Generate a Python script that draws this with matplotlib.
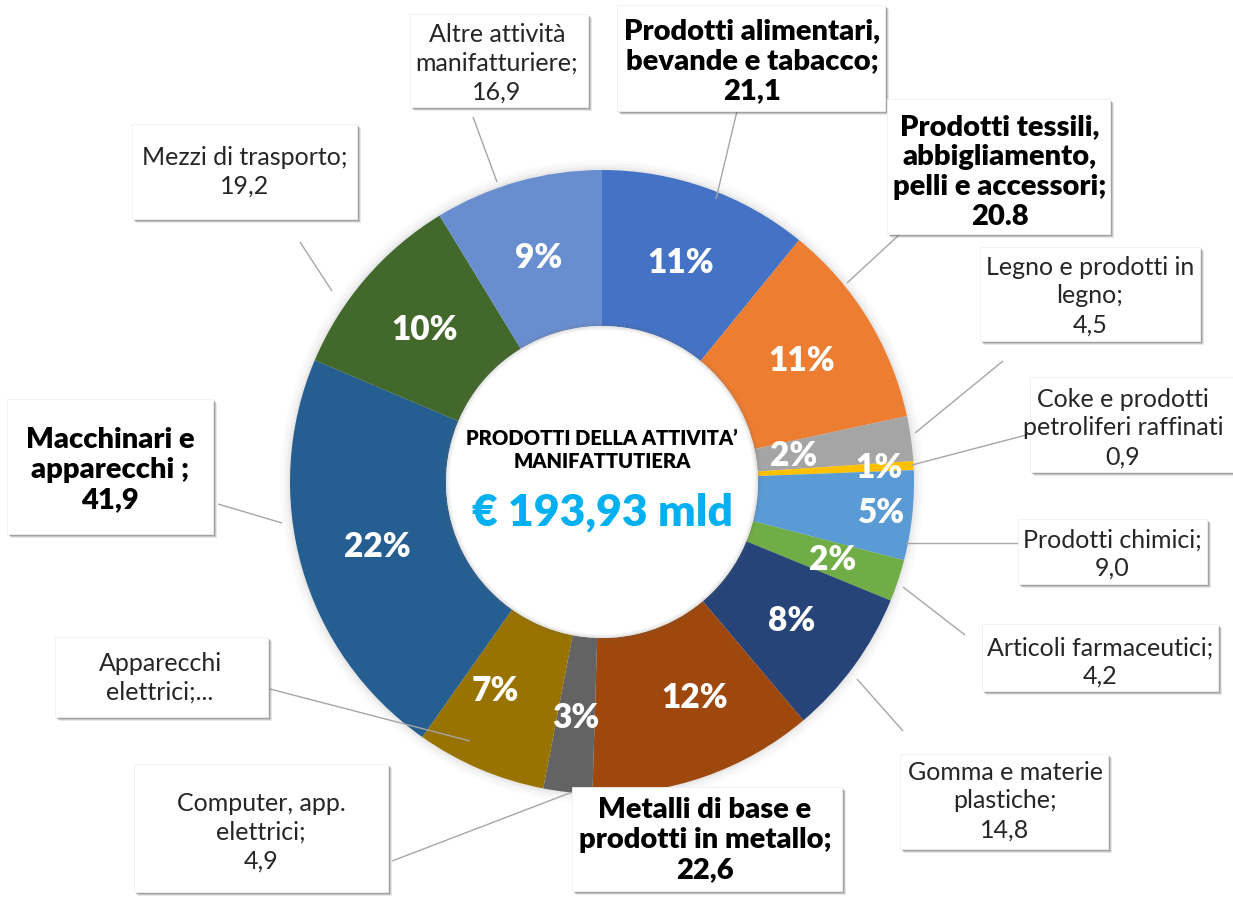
import matplotlib
matplotlib.use("Agg")
import matplotlib.pyplot as plt
from matplotlib.patches import Rectangle, Circle
import numpy as np

plt.rcParams['font.family'] = ['Lato', 'DejaVu Sans']

# ---------------- data ----------------
categories = ["Prodotti alimentari, bevande e tabacco", "Prodotti tessili, abbigliamento, pelli e accessori",
              "Legno e prodotti in legno", "Coke e prodotti petroliferi raffinati", "Prodotti chimici",
              "Articoli farmaceutici", "Gomma e materie plastiche", "Metalli di base e prodotti in metallo",
              "Computer, app. elettrici", "Apparecchi elettrici", "Macchinari e apparecchi",
              "Mezzi di trasporto", "Altre attività manifatturiere"]
values = [21.1, 20.8, 4.5, 0.9, 9.0, 4.2, 14.8, 22.6, 4.9, 13.1, 41.9, 19.2, 16.9]
pct_labels = ["11%", "11%", "2%", "1%", "5%", "2%", "8%", "12%", "3%", "7%", "22%", "10%", "9%"]
box_texts = ["Prodotti alimentari,\nbevande e tabacco;\n21,1",
             "Prodotti tessili,\nabbigliamento,\npelli e accessori;\n20.8",
             "Legno e prodotti in\nlegno;\n4,5",
             "Coke e prodotti\npetroliferi raffinati\n0,9",
             "Prodotti chimici;\n9,0",
             "Articoli farmaceutici;\n4,2",
             "Gomma e materie\nplastiche;\n14,8",
             "Metalli di base e\nprodotti in metallo;\n22,6",
             "Computer, app.\nelettrici;\n4,9",
             "Apparecchi\nelettrici;...",
             "Macchinari e\napparecchi ;\n41,9",
             "Mezzi di trasporto;\n19,2",
             "Altre attività\nmanifatturiere;\n16,9"]
bold_flags = [True, True, False, False, False, False, False, True, False, False, True, False, False]
center_title = "PRODOTTI DELLA ATTIVITA’\nMANIFATTUTIERA"
center_total = "€ 193,93 mld"

colors = ['#4472C4', '#ED7D31', '#A5A5A5', '#FFC000', '#5B9BD5', '#70AD47', '#264478',
          '#9E480E', '#636363', '#997300', '#255E91', '#43682B', '#698ED0']

# ---------------- layout (pixel coordinates, y downward) ----------------
W, H = 1233, 903
CX, CY, R = 602, 483, 312
HOLE = 0.5
pct_dist = [0.75, 0.75, 0.62, 0.89, 0.90, 0.78, 0.75, 0.75, 0.757, 0.75, 0.75, 0.75, 0.75]
pct_dang = [0, 0, 0, 0, 0, 0, 0, -4, 0, 4, 0, 0, 0]

boxes = [(617, 6, 885, 112), (887, 100, 1110, 235), (980, 248, 1200, 342), (1030, 378, 1245, 473),
         (1018, 520, 1207, 585), (982, 625, 1218, 692), (900, 755, 1108, 850), (572, 788, 842, 892),
         (134, 765, 388, 893), (55, 638, 268, 718), (7, 400, 213, 535), (132, 125, 357, 220),
         (410, 15, 588, 108)]
text_pos = [(752, 61), (1000, 172), (1090, 296), (1123, 428), (1112, 554), (1100, 662), (1005, 801),
            (705, 840), (261, 832), (160, 678), (110, 470), (245, 172), (497, 63)]
leaders = [((737, 112), (716, 200)), ((900, 235), (847, 284)), ((1003, 362), (915, 434)),
           ((1030, 435), (912, 466)), ((1018, 544), (905, 544)), ((965, 636), (903, 588)),
           ((903, 732), (857, 680)), None, ((392, 862), (575, 792)), ((270, 690), (470, 742)),
           ((218, 505), (282, 524)), ((300, 243), (332, 292)), ((473, 118), (497, 183))]

fig = plt.figure(figsize=(W / 100, H / 100), dpi=100)
fig.patch.set_facecolor('white')
ax = fig.add_axes([0, 0, 1, 1])

# soft glow around donut
for k, a in zip([10, 7, 4, 2], [0.03, 0.04, 0.05, 0.06]):
    ax.add_patch(Circle((CX, CY), R + k, color='#808080', alpha=a, lw=0, zorder=1))

wedges, _ = ax.pie(values, colors=colors, startangle=-90, counterclock=True,
                   radius=R, center=(CX, CY), frame=True,
                   wedgeprops=dict(width=R * (1 - HOLE), linewidth=0))
for w in wedges:
    w.set_zorder(2)

# white hole with light inner shading
ax.add_patch(Circle((CX, CY), R * HOLE, facecolor='white', lw=0, zorder=2.2))
for k, a in zip([6, 4, 2], [0.04, 0.06, 0.08]):
    ax.add_patch(Circle((CX, CY), R * HOLE, fill=False, ec='#707070', lw=k, alpha=a, zorder=2.5))

# percentage labels
for w, lab, d, da in zip(wedges, pct_labels, pct_dist, pct_dang):
    th = np.deg2rad((w.theta1 + w.theta2) / 2 + da)
    x = CX + R * d * np.cos(th)
    y = CY + R * d * np.sin(th)
    ax.text(x, y, lab, ha='center', va='center', color='white', fontsize=24,
            fontweight='heavy', zorder=4)

# center text
ax.text(CX, 450, center_title, ha='center', va='center', fontsize=14.5, fontweight='heavy',
        color='black', linespacing=1.2, zorder=4)
ax.text(CX, 512, center_total, ha='center', va='center', fontsize=32, fontweight='heavy',
        color='#00B0F0', zorder=4)

# leader lines
for ld in leaders:
    if ld is None:
        continue
    (x0, y0), (x1, y1) = ld
    ax.plot([x0, x1], [y0, y1], color='#A6A6A6', lw=1, zorder=3, solid_capstyle='butt')

# label boxes
for (x0, y0, x1, y1), txt, b, (tx, ty) in zip(boxes, box_texts, bold_flags, text_pos):
    for off, a in [(4, 0.15), (3, 0.25), (2, 0.35)]:
        ax.add_patch(Rectangle((x0 + off, y0 + off), x1 - x0, y1 - y0, color='#606060',
                               alpha=a, lw=0, zorder=5))
    ax.add_patch(Rectangle((x0, y0), x1 - x0, y1 - y0, facecolor='white', edgecolor='#F0F0F0',
                           lw=0.6, zorder=6))
    if b:
        ax.text(tx, ty, txt, ha='center', va='center', multialignment='center', fontsize=21,
                fontweight='heavy', color='black', linespacing=1.2, zorder=7)
    else:
        ax.text(tx, ty, txt, ha='center', va='center', multialignment='center', fontsize=18,
                fontweight='normal', color='#262626', linespacing=1.3, zorder=7)

ax.set_xlim(0, W)
ax.set_ylim(H, 0)
ax.set_aspect('auto')
ax.axis('off')

fig.savefig('out.png', dpi=100, facecolor='white')
